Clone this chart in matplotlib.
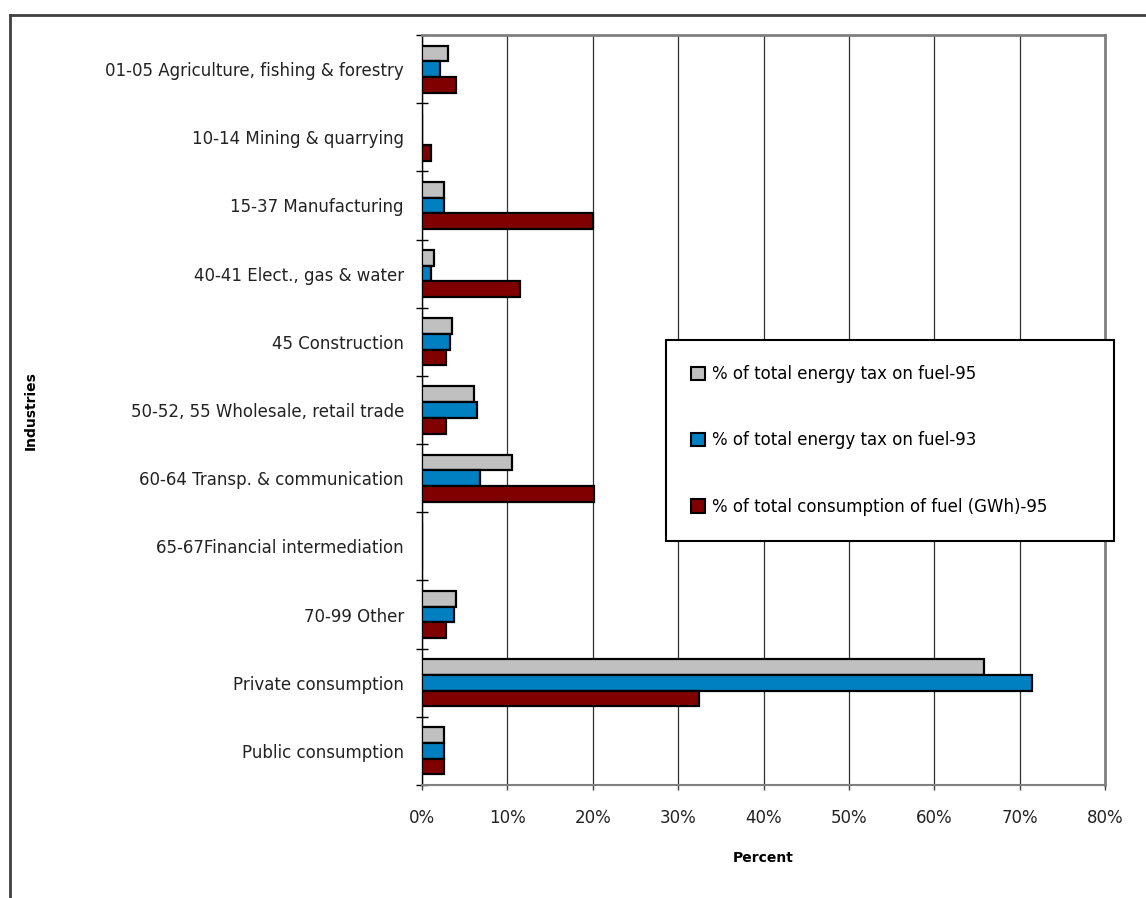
import numpy as np
import matplotlib
matplotlib.use("Agg")
import matplotlib.pyplot as plt
from matplotlib.patches import Patch
from matplotlib.lines import Line2D

plt.rcParams['font.family'] = ['DejaVu Sans']

# industries, top to bottom
industries = ["01-05 Agriculture, fishing & forestry",
              "10-14 Mining & quarrying",
              "15-37 Manufacturing",
              "40-41 Elect., gas & water",
              "45 Construction",
              "50-52, 55 Wholesale, retail trade",
              "60-64 Transp. & communication",
              "65-67Financial intermediation",
              "70-99 Other",
              "Private consumption",
              "Public consumption"]

# shares in percent
tax_95 = [3.1, 0.0, 2.6, 1.4, 3.55, 6.1, 10.6, 0.0, 4.0, 65.8, 2.6]
tax_93 = [2.1, 0.0, 2.6, 1.1, 3.3, 6.4, 6.8, 0.0, 3.75, 71.5, 2.6]
fuel_95 = [4.0, 1.1, 20.0, 11.5, 2.8, 2.8, 20.1, 0.0, 2.8, 32.4, 2.6]

series_names = ["% of total energy tax on fuel-95",
                "% of total energy tax on fuel-93",
                "% of total consumption of fuel (GWh)-95"]
colors = ["#C0C0C0", "#0080C0", "#800000"]

W, H = 1146, 898
fig = plt.figure(figsize=(W / 100, H / 100), dpi=100)
ax = fig.add_axes([422 / W, 1 - 785 / H, (1105 - 422) / W, (785 - 35) / H])

y = np.arange(len(industries))
h = 0.23
for off, vals, c in zip([-h, 0, h], [tax_95, tax_93, fuel_95], colors):
    ax.barh(y + off, vals, h, color=c, edgecolor="black", linewidth=1.6, zorder=3)

ax.set_xlim(0, 80)
ax.set_ylim(len(industries) - 0.5, -0.5)

xt = np.arange(0, 81, 10)
ax.set_xticks(xt)
ax.set_xticklabels([f"{v}%" for v in xt], fontsize=12, color="#222222")
ax.tick_params(axis="x", direction="out", length=3.6, width=1, color="#404040", pad=14)

ax.set_yticks(y)
ax.set_yticklabels(industries, fontsize=12, color="#222222")
ax.tick_params(axis="y", which="major", length=0, pad=13)
ax.set_yticks(np.arange(-0.5, len(industries), 1), minor=True)
ax.tick_params(axis="y", which="minor", direction="inout", length=8.6, width=1, color="black")

ax.grid(axis="x", color="#303030", linewidth=0.9, zorder=0)
ax.set_axisbelow(True)

for s in ["top", "right"]:
    ax.spines[s].set_color("#808080")
    ax.spines[s].set_linewidth(2)
ax.spines["bottom"].set_color("#808080")
ax.spines["bottom"].set_linewidth(1.5)
ax.spines["left"].set_color("black")
ax.spines["left"].set_linewidth(1)

fig.text(763 / W, 1 - 858 / H, "Percent", fontsize=10, fontweight="bold",
         ha="center", va="center")
fig.text(31 / W, 1 - 411 / H, "Industries", fontsize=10, fontweight="bold",
         rotation=90, ha="center", va="center")

# chart area frame
fig.add_artist(Line2D([10 / W, 10 / W], [0, 1 - 15 / H], color="#404040", lw=2))
fig.add_artist(Line2D([10 / W, 1], [1 - 15 / H, 1 - 15 / H], color="#404040", lw=2))

handles = [Patch(facecolor=c, edgecolor="black", linewidth=1.5) for c in colors]
leg = fig.legend(handles, series_names, loc="upper left",
                 bbox_to_anchor=(666 / W, 1 - 540 / H, (1114 - 666) / W, 200 / H),
                 mode="expand", borderaxespad=0, fontsize=12, frameon=True,
                 fancybox=False, edgecolor="black", framealpha=1,
                 borderpad=1.5, labelspacing=2.9, handlelength=0.85,
                 handleheight=0.85, handletextpad=0.4)
leg.get_frame().set_linewidth(1.5)

fig.savefig("out.png", dpi=100)
